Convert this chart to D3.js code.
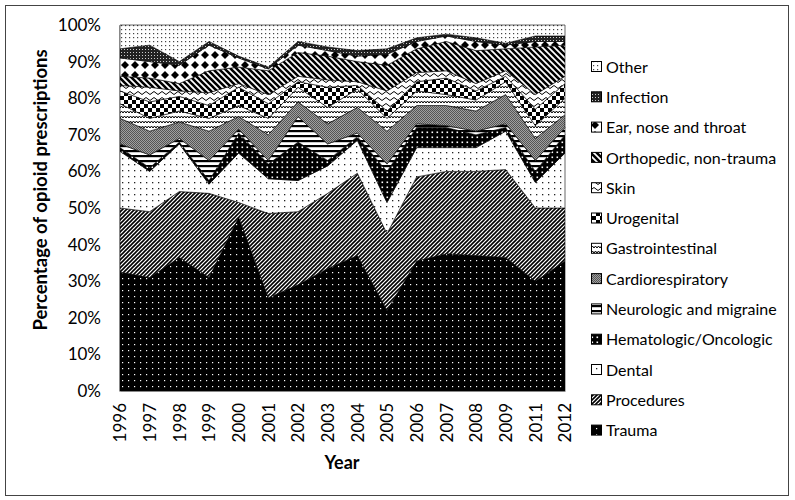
<!DOCTYPE html>
<html><head><meta charset="utf-8">
<script src="https://cdn.jsdelivr.net/npm/d3@7"></script>
<style>body{margin:0;background:#fff}svg{display:block}text{font-family:Lato,"Open Sans",sans-serif;fill:#000}</style>
</head><body><svg id="c" width="795" height="500"></svg>
<script>
const years = ["1996","1997","1998","1999","2000","2001","2002","2003","2004","2005","2006","2007","2008","2009","2011","2012"];
const seriesNames = ["Trauma","Procedures","Dental","Hematologic/Oncologic","Neurologic and migraine","Cardiorespiratory","Gastrointestinal","Urogenital","Skin","Orthopedic, non-trauma","Ear, nose and throat","Infection","Other"];
const trauma      = [32.5,31,36.5,31,47.5,25.5,29,33.5,37,22,35.5,37.5,37,36.5,30,35.5];
const procedures  = [17.5,18,18,23,4,23,20,20.5,22.5,21,23,22.5,23,24,20,14.5];
const dental      = [15.5,11,13,2.5,13.5,9.5,8.5,7.5,9,8.5,8,6.5,6.5,10.5,7,15];
const hematologic = [1,1,0.5,1,5.5,4,10.5,1.5,1,8.5,5.5,5.5,3.5,1,3,5];
const neurologic  = [1,3.5,1,5.5,1,1,7,4.5,1,2,1,0.5,1,1,3,2];
const cardio      = [7,6.5,4.5,8,3.5,7,4,5.5,7,9,5,5.5,5.5,8,6,3.5];
const gastro      = [4,3.5,3,3.5,3,4.5,4,4.5,5,3.5,4,3,3,3.5,3.5,4.5];
const urogenital  = [3.5,4.5,4,3.5,5,4,1.5,5.5,1,2,2.5,4.5,2.5,1.5,4.5,4];
const skin        = [1.5,4,1.5,3.5,1,2.5,1.5,2,1,5.5,2.5,2,2,1.5,4,2];
const orthopedic  = [2.5,2.5,2,6,4.5,6.5,6.5,6.5,5.5,7,6.5,8,9,6,13,8.5];
const ent         = [5,4.5,5,7,2.5,0.5,2,1.5,1.5,3,2,1.5,2.5,1,1.5,1];
const infection   = [2.5,4.5,1,1,0.5,0.5,1,1,1.5,1.5,1,0.5,1,0.5,1.5,1.5];
const other       = [6.5,5.5,10,4.5,8.5,11.5,4.5,6,7,6.5,3.5,2.5,3.5,5,3,3];
const yTicks = [0,10,20,30,40,50,60,70,80,90,100];

const valueArrays = [trauma,procedures,dental,hematologic,neurologic,cardio,gastro,urogenital,skin,orthopedic,ent,infection,other];
const table = years.map((y,i)=>{const o={year:y}; seriesNames.forEach((k,j)=>o[k]=valueArrays[j][i]); return o;});

const svg = d3.select("#c");
const defs = svg.append("defs");
function pat(id,w,h,bg,draw){
  const p=defs.append("pattern").attr("id",id).attr("patternUnits","userSpaceOnUse").attr("width",w).attr("height",h);
  p.append("rect").attr("width",w).attr("height",h).attr("fill",bg);
  draw(p); return `url(#${id})`;
}
const fills = {};
fills["Trauma"] = pat("p0",6,6,"#000",p=>p.append("rect").attr("x",2).attr("y",2).attr("width",1.2).attr("height",1.2).attr("fill","#fff"));
fills["Procedures"] = pat("p1",4,4,"#fff",p=>{p.append("path").attr("d","M-1,5 L5,-1 M-1,1 L1,-1 M3,5 L5,3").attr("stroke","#000").attr("stroke-width",1.6);});
fills["Dental"] = pat("p2",6,6,"#fff",p=>p.append("rect").attr("x",2).attr("y",2).attr("width",1.3).attr("height",1.3).attr("fill","#222"));
fills["Hematologic/Oncologic"] = pat("p3",5,5,"#000",p=>p.append("rect").attr("x",1.5).attr("y",1.5).attr("width",1.6).attr("height",1.6).attr("fill","#fff"));
fills["Neurologic and migraine"] = pat("p4",5,5,"#fff",p=>p.append("rect").attr("x",0).attr("y",0).attr("width",5).attr("height",2.2).attr("fill","#000"));
fills["Cardiorespiratory"] = pat("p5",2,2,"#a0a0a0",p=>{p.append("rect").attr("width",1).attr("height",1).attr("fill","#555");p.append("rect").attr("x",1).attr("y",1).attr("width",1).attr("height",1).attr("fill","#555");});
fills["Gastrointestinal"] = pat("p6",6,5,"#fff",p=>p.append("path").attr("d","M0,3 L1.5,1 L3,3 L4.5,1 L6,3").attr("fill","none").attr("stroke","#000").attr("stroke-width",1));
fills["Urogenital"] = pat("p7",8,8,"#fff",p=>{p.append("rect").attr("width",4).attr("height",4).attr("fill","#000");p.append("rect").attr("x",4).attr("y",4).attr("width",4).attr("height",4).attr("fill","#000");});
fills["Skin"] = pat("p8",8,6,"#fff",p=>p.append("path").attr("d","M0,3 Q2,0 4,3 T8,3").attr("fill","none").attr("stroke","#000").attr("stroke-width",1));
fills["Orthopedic, non-trauma"] = pat("p9",6,6,"#fff",p=>p.append("path").attr("d","M-1,-1 L7,7 M-1,5 L1,7 M5,-1 L7,1").attr("stroke","#000").attr("stroke-width",2.6));
fills["Ear, nose and throat"] = pat("p10",10,10,"#fff",p=>p.append("path").attr("d","M5,1 L9,5 L5,9 L1,5 Z").attr("fill","#000"));
fills["Infection"] = pat("p11",3,3,"#222",p=>p.append("rect").attr("x",1).attr("y",1).attr("width",1).attr("height",1).attr("fill","#ccc"));
fills["Other"] = pat("p12",4,4,"#fff",p=>p.append("rect").attr("x",1).attr("y",1).attr("width",1.2).attr("height",1.2).attr("fill","#444"));

// outer frame
svg.append("rect").attr("x",5.5).attr("y",5.5).attr("width",783).attr("height",490).attr("fill","none").attr("stroke","#444").attr("stroke-width",1);

const x = d3.scalePoint().domain(years).range([120,565]);
const y = d3.scaleLinear().domain([0,100]).range([391,25]);

const stack = d3.stack().keys(seriesNames);
const layers = stack(table);
const area = d3.area().x(d=>x(d.data.year)).y0(d=>y(d[0])).y1(d=>y(d[1]));
svg.append("g").selectAll("path").data(layers).join("path")
  .attr("d",area).attr("fill",d=>fills[d.key]).attr("stroke","#000").attr("stroke-width",0.6);

// axes
const yAxis = d3.axisLeft(y).tickValues(yTicks).tickFormat(d=>d+"%").tickSize(0).tickPadding(18);
const gy = svg.append("g").attr("transform","translate(119,0)").call(yAxis);
gy.select(".domain").attr("stroke","#888");
gy.selectAll("text").style("font-size","17px").style("font-family","Lato, sans-serif");

const xAxis = d3.axisBottom(x).tickSize(0).tickPadding(0);
const gx = svg.append("g").attr("transform","translate(0,391)").call(xAxis);
gx.select(".domain").attr("stroke","#888");
gx.selectAll("text").attr("transform","rotate(-90)").attr("text-anchor","end").attr("x",-12).attr("y",0).attr("dy","0.35em")
  .style("font-size","17px").style("font-family","Lato, sans-serif");

svg.append("text").attr("x",342).attr("y",469).attr("text-anchor","middle").style("font-weight","bold").style("font-size","18px").text("Year");
svg.append("text").attr("transform","translate(47,190) rotate(-90)").attr("text-anchor","middle").style("font-weight","bold").style("font-size","18.5px").text("Percentage of opioid prescriptions");

// legend
const legendOrder = seriesNames.slice().reverse();
const lg = svg.append("g");
legendOrder.forEach((k,i)=>{
  const cy = 67 + i*30.3;
  lg.append("rect").attr("x",591.5).attr("y",cy-5.5).attr("width",10).attr("height",10).attr("fill",fills[k]).attr("stroke","#000").attr("stroke-width",1);
  lg.append("text").attr("x",606).attr("y",cy).attr("dy","0.35em").style("font-size","16px").text(k);
});
</script></body></html>
